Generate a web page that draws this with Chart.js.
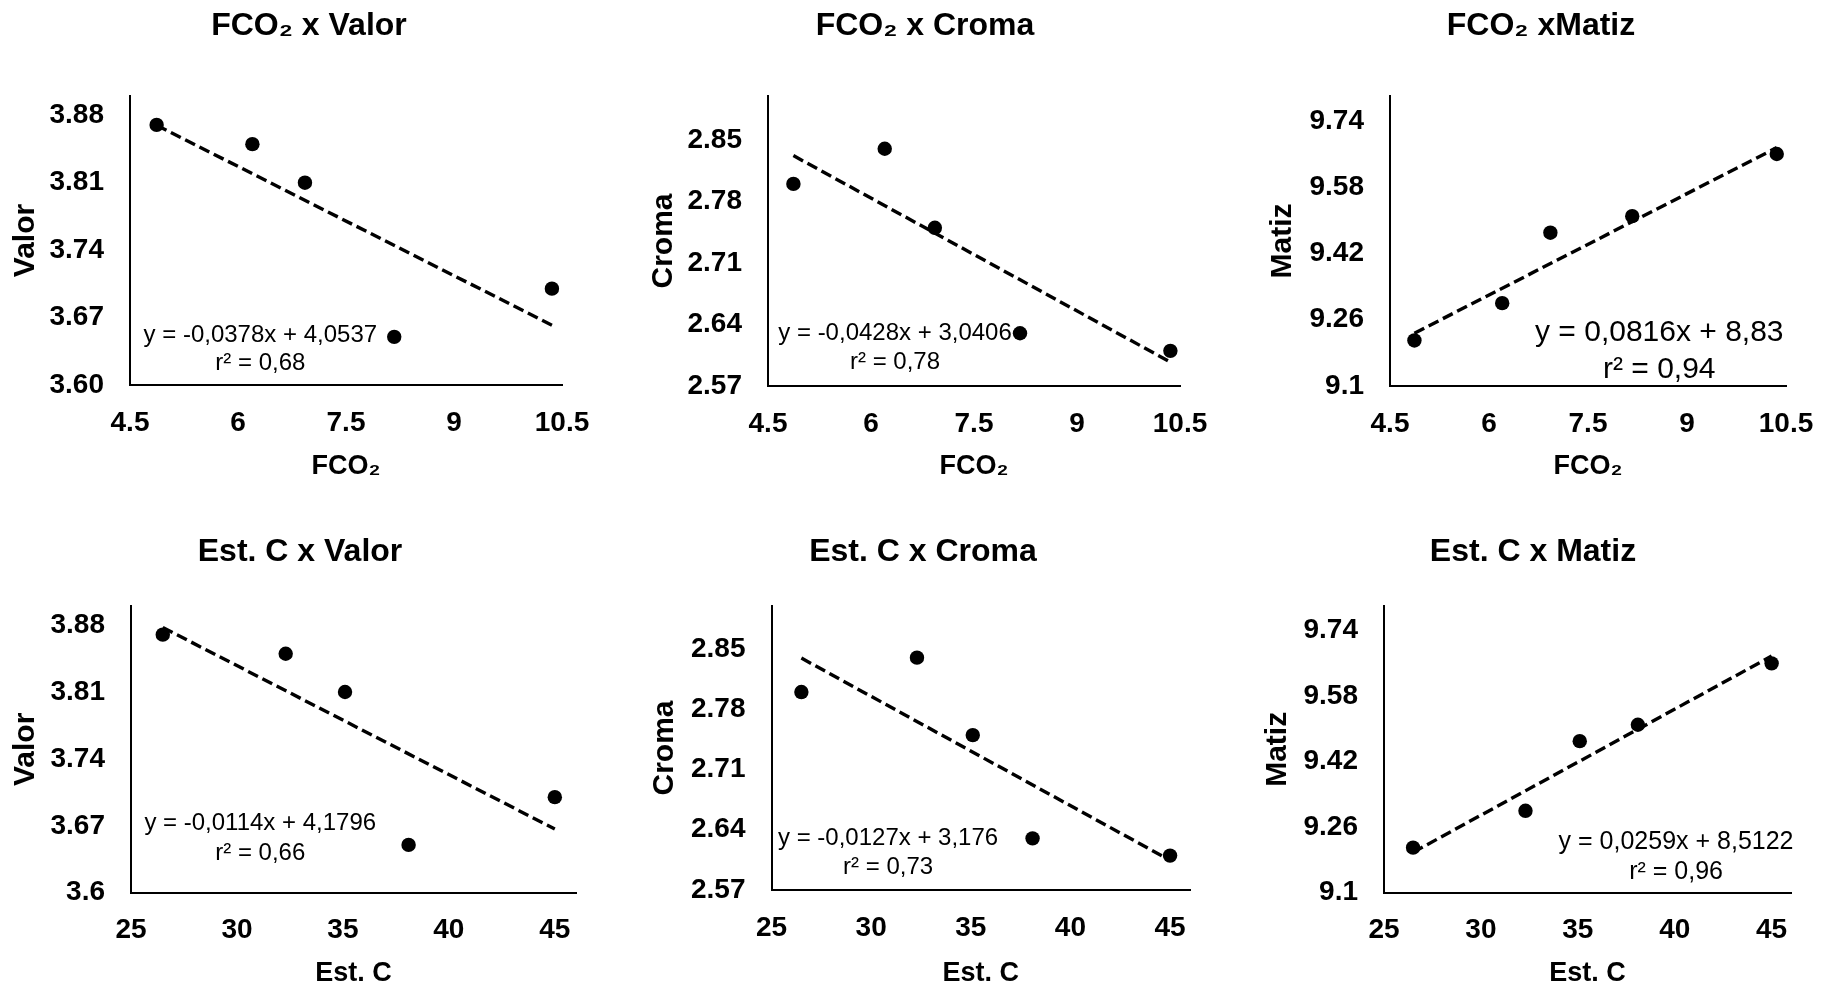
<!DOCTYPE html>
<html>
<head>
<meta charset="utf-8">
<script src="https://cdn.jsdelivr.net/npm/chart.js@4.4.1/dist/chart.umd.min.js"></script>
<style>
  html, body { margin: 0; padding: 0; background: #fff; overflow: hidden; width: 1825px; height: 989px; }
  .panel { position: absolute; }
</style>
</head>
<body>
<div class="panel" id="p1"><canvas id="c1"></canvas></div>
<div class="panel" id="p2"><canvas id="c2"></canvas></div>
<div class="panel" id="p3"><canvas id="c3"></canvas></div>
<div class="panel" id="p4"><canvas id="c4"></canvas></div>
<div class="panel" id="p5"><canvas id="c5"></canvas></div>
<div class="panel" id="p6"><canvas id="c6"></canvas></div>
<script>
// the same 5 samples are used in every plot
const fco2 = [4.87, 6.2, 6.93, 8.17, 10.36];
const estC = [26.5, 32.3, 35.1, 38.1, 45.0];
const valor = [3.87, 3.85, 3.81, 3.65, 3.70];
const croma = [2.80, 2.84, 2.75, 2.63, 2.61];
const matiz = [9.21, 9.30, 9.47, 9.51, 9.66];

// tick values and their printed labels
const fco2Ticks = [4.5, 6, 7.5, 9, 10.5];
const fco2TickLabels = ["4.5", "6", "7.5", "9", "10.5"];
const estCTicks = [25, 30, 35, 40, 45];
const estCTickLabels = ["25", "30", "35", "40", "45"];
const valorTicks = [3.6, 3.67, 3.74, 3.81, 3.88];
const valorTickLabelsTop = ["3.60", "3.67", "3.74", "3.81", "3.88"];
const valorTickLabelsBottom = ["3.6", "3.67", "3.74", "3.81", "3.88"];
const cromaTicks = [2.57, 2.64, 2.71, 2.78, 2.85];
const cromaTickLabels = ["2.57", "2.64", "2.71", "2.78", "2.85"];
const matizTicks = [9.1, 9.26, 9.42, 9.58, 9.74];
const matizTickLabels = ["9.1", "9.26", "9.42", "9.58", "9.74"];

// linear trendlines as printed on each plot
const titles = ["FCO₂ x Valor", "FCO₂ x Croma", "FCO₂ xMatiz", "Est. C x Valor", "Est. C x Croma", "Est. C x Matiz"];
const trendSlope = [-0.0378, -0.0428, 0.0816, -0.0114, -0.0127, 0.0259];
const trendIntercept = [4.0537, 3.0406, 8.83, 4.1796, 3.176, 8.5122];
const eqLabels = ["y = -0,0378x + 4,0537", "y = -0,0428x + 3,0406", "y = 0,0816x + 8,83",
  "y = -0,0114x + 4,1796", "y = -0,0127x + 3,176", "y = 0,0259x + 8,5122"];
const r2Labels = ["r² = 0,68", "r² = 0,78", "r² = 0,94", "r² = 0,66", "r² = 0,73", "r² = 0,96"];

const FONT = "'Liberation Sans', Arial, Helvetica, sans-serif";
Chart.defaults.font.family = FONT;
Chart.defaults.color = "#000";

// layout of each panel (pixels) and where its equation sits (data units)
const panels = [
  { id: "1", left: 0, top: 0, width: 618, height: 495, xs: fco2, ys: valor, xTicks: fco2Ticks, xLabels: fco2TickLabels, xMin: 4.5, xMax: 10.5,
    yTicks: valorTicks, yLabels: valorTickLabelsTop, yMin: 3.6, yMax: 3.9, xTitle: "FCO₂", yTitle: "Valor",
    yWidth: 130, xHeight: 110, rightGap: 56, yTitlePad: 8, titlePad: { top: 7, bottom: 50.6 }, xTitlePad: 11.8,
    eqAt: [6.31, 3.652], eqSize: 24, eqGap: 28.7 },
  { id: "2", left: 620, top: 0, width: 610, height: 495, xs: fco2, ys: croma, xTicks: fco2Ticks, xLabels: fco2TickLabels, xMin: 4.5, xMax: 10.5,
    yTicks: cromaTicks, yLabels: cromaTickLabels, yMin: 2.57, yMax: 2.9, xTitle: "FCO₂", yTitle: "Croma",
    yWidth: 148, xHeight: 109, rightGap: 50, yTitlePad: 25.5, titlePad: { top: 7, bottom: 50.6 }, xTitlePad: 11.8,
    eqAt: [6.35, 2.630], eqSize: 24, eqGap: 29 },
  { id: "3", left: 1260, top: 0, width: 562, height: 495, xs: fco2, ys: matiz, xTicks: fco2Ticks, xLabels: fco2TickLabels, xMin: 4.5, xMax: 10.5,
    yTicks: matizTicks, yLabels: matizTickLabels, yMin: 9.1, yMax: 9.8, xTitle: "FCO₂", yTitle: "Matiz",
    yWidth: 130, xHeight: 109, rightGap: 36, yTitlePad: 5, titlePad: { top: 7, bottom: 50.6 }, xTitlePad: 11.8,
    eqAt: [8.58, 9.228], eqSize: 30, eqGap: 37 },
  { id: "4", left: 0, top: 495, width: 600, height: 510, xs: estC, ys: valor, xTicks: estCTicks, xLabels: estCTickLabels, xMin: 25, xMax: 46,
    yTicks: valorTicks, yLabels: valorTickLabelsBottom, yMin: 3.6, yMax: 3.9, xTitle: "Est. C", yTitle: "Valor",
    yWidth: 131, xHeight: 112.3, rightGap: 24, yTitlePad: 8, titlePad: { top: 37.5, bottom: 35.1 }, xTitlePad: 14.8,
    eqAt: [31.1, 3.673], eqSize: 24, eqGap: 30 },
  { id: "5", left: 620, top: 495, width: 606, height: 510, xs: estC, ys: croma, xTicks: estCTicks, xLabels: estCTickLabels, xMin: 25, xMax: 46,
    yTicks: cromaTicks, yLabels: cromaTickLabels, yMin: 2.57, yMax: 2.9, xTitle: "Est. C", yTitle: "Croma",
    yWidth: 151.5, xHeight: 115, rightGap: 36, yTitlePad: 27, titlePad: { top: 37.5, bottom: 35.1 }, xTitlePad: 14.8,
    eqAt: [30.85, 2.630], eqSize: 24, eqGap: 29.4 },
  { id: "6", left: 1250, top: 495, width: 566, height: 510, xs: estC, ys: matiz, xTicks: estCTicks, xLabels: estCTickLabels, xMin: 25, xMax: 46,
    yTicks: matizTicks, yLabels: matizTickLabels, yMin: 9.1, yMax: 9.8, xTitle: "Est. C", yTitle: "Matiz",
    yWidth: 134, xHeight: 112.3, rightGap: 25, yTitlePad: 10, titlePad: { top: 37.5, bottom: 35.1 }, xTitlePad: 14.8,
    eqAt: [40.07, 9.223], eqSize: 25, eqGap: 29.4 },
];

// draws the trendline equation and r² under it
const equationLabel = {
  id: "equationLabel",
  afterDatasetsDraw(chart, args, opts) {
    const { ctx, scales } = chart;
    const x = scales.x.getPixelForValue(opts.at[0]);
    const y = scales.y.getPixelForValue(opts.at[1]);
    ctx.save();
    ctx.font = `${opts.size}px ${FONT}`;
    ctx.fillStyle = "#000";
    ctx.textAlign = "center";
    ctx.textBaseline = "middle";
    ctx.fillText(opts.lines[0], x, y);
    ctx.fillText(opts.lines[1], x, y + opts.gap);
    ctx.restore();
  },
};

panels.forEach((p, i) => {
  const box = document.getElementById(`p${p.id}`);
  box.style.left = `${p.left}px`;
  box.style.top = `${p.top}px`;
  box.style.width = `${p.width}px`;
  box.style.height = `${p.height}px`;

  const points = p.xs.map((x, k) => ({ x, y: p.ys[k] }));
  const x0 = Math.min(...p.xs);
  const x1 = Math.max(...p.xs);
  const trend = [x0, x1].map((x) => ({ x, y: trendSlope[i] * x + trendIntercept[i] }));

  new Chart(document.getElementById(`c${p.id}`), {
    type: "scatter",
    data: {
      datasets: [
        { data: points, backgroundColor: "#000", pointRadius: 7.2, pointBorderWidth: 0, pointHoverRadius: 7.2 },
        { data: trend, showLine: true, borderColor: "#000", borderWidth: 3.4, borderDash: [11, 5], pointRadius: 0, fill: false },
      ],
    },
    options: {
      responsive: true,
      maintainAspectRatio: false,
      animation: false,
      events: [],
      layout: { padding: 0 },
      scales: {
        x: {
          type: "linear",
          min: p.xMin,
          max: p.xMax,
          afterBuildTicks(scale) { scale.ticks = p.xTicks.map((v) => ({ value: v })); },
          afterFit(scale) {
            scale.height = p.xHeight;
            scale.paddingLeft = 0;
            scale.paddingRight = p.rightGap;
          },
          ticks: {
            autoSkip: false, maxRotation: 0, padding: 21, color: "#000",
            font: { size: 28, weight: "bold" },
            callback: (v, k) => p.xLabels[k],
          },
          grid: { display: false, drawTicks: false },
          border: { display: true, color: "#000", width: 2 },
          title: { display: true, text: p.xTitle, color: "#000", font: { size: 27, weight: "bold" }, padding: { top: 0, bottom: p.xTitlePad } },
        },
        y: {
          type: "linear",
          min: p.yMin,
          max: p.yMax,
          afterBuildTicks(scale) { scale.ticks = p.yTicks.map((v) => ({ value: v })); },
          afterFit(scale) {
            scale.width = p.yWidth;
            scale.paddingTop = 0;
            scale.paddingBottom = 0;
          },
          ticks: {
            autoSkip: false, padding: 26, color: "#000",
            font: { size: 28, weight: "bold" },
            callback: (v, k) => p.yLabels[k],
          },
          grid: { display: false, drawTicks: false },
          border: { display: true, color: "#000", width: 2 },
          title: { display: true, text: p.yTitle, color: "#000", font: { size: 30, weight: "bold" }, padding: { top: p.yTitlePad, bottom: 0 } },
        },
      },
      plugins: {
        legend: { display: false },
        tooltip: { enabled: false },
        title: { display: true, text: titles[i], color: "#000", font: { size: 32, weight: "bold" }, padding: p.titlePad },
        equationLabel: { at: p.eqAt, size: p.eqSize, gap: p.eqGap, lines: [eqLabels[i], r2Labels[i]] },
      },
    },
    plugins: [equationLabel],
  });
});
</script>
</body>
</html>
